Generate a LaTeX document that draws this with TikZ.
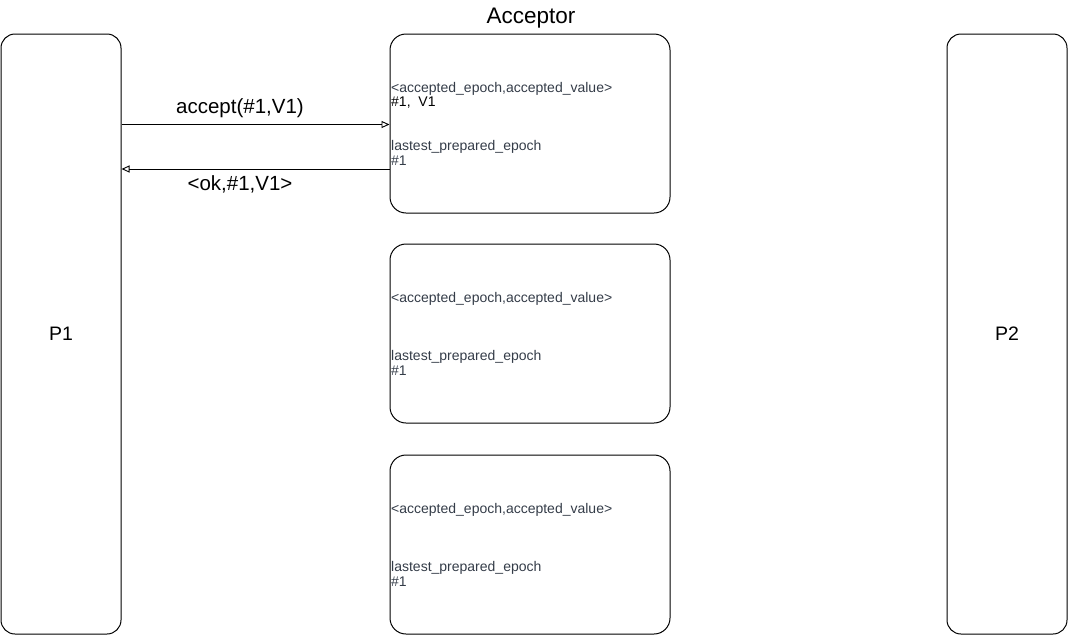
\documentclass[tikz,border=0pt]{standalone}
\usepackage{fontspec}
\setmainfont{Liberation Sans}
\usetikzlibrary{arrows.meta}
\definecolor{fieldgray}{RGB}{52,60,72}

\begin{document}
\begin{tikzpicture}[x=1pt,y=-1pt]
\tikzstyle{proposer}=[draw,line width=1pt,rounded corners=14pt,minimum width=120pt,minimum height=600pt,font=\fontsize{19.5}{22}\selectfont]
\tikzstyle{acceptor}=[draw,line width=1pt,rounded corners=16pt,minimum width=280pt,minimum height=179pt]
\tikzstyle{field}=[anchor=base west,inner sep=0pt,text=fieldgray,font=\fontsize{14}{16}\selectfont]
\tikzstyle{value}=[field,text=black]
\tikzstyle{msg}=[anchor=base,inner sep=0pt,font=\fontsize{20.5}{24}\selectfont]
\useasboundingbox (0,0) rectangle (1068,635);
% the two proposers
\node [proposer] (P1) at (61,334) {P1};
\node [proposer] (P2) at (1007,334) {P2};
% the three acceptors
\node [msg,font=\fontsize{22.5}{26}\selectfont] (title) at (531,23) {Acceptor};
\node [acceptor] (A1) at (530,123.5) {};
\node [acceptor] (A2) at (530,333.5) {};
\node [acceptor] (A3) at (530,544.5) {};
\node [field] (A1pair) at (391,92.5) {<accepted\_epoch,accepted\_value>};
\node [value] (A1pairv) at (391,106.6) {\#1,\ \ V1};
\node [field] (A1last) at (391,150) {lastest\_prepared\_epoch};
\node [field] (A1lastv) at (391,165.7) {\#1};
\node [field] (A2pair) at (391,302.5) {<accepted\_epoch,accepted\_value>};
\node [field] (A2last) at (391,360) {lastest\_prepared\_epoch};
\node [field] (A2lastv) at (391,375.7) {\#1};
\node [field] (A3pair) at (391,513.5) {<accepted\_epoch,accepted\_value>};
\node [field] (A3last) at (391,571) {lastest\_prepared\_epoch};
\node [field] (A3lastv) at (391,586.7) {\#1};
% messages
\draw[-{Triangle[open,length=8pt,width=7pt]},line width=0.9pt]
    ([yshift=-1pt]A1.west -| P1.east) -- ([yshift=-1pt]A1.west);
\draw[-{Triangle[open,length=8pt,width=7pt]},line width=0.9pt]
    ([yshift=-45.5pt]A1.west) -- ([yshift=-45.5pt]A1.west -| P1.east);
\node [msg] (accept) at (240,113) {accept(\#1,V1)};
\node [msg] (ok) at (240,190) {<ok,\#1,V1>};
\end{tikzpicture}
\end{document}
